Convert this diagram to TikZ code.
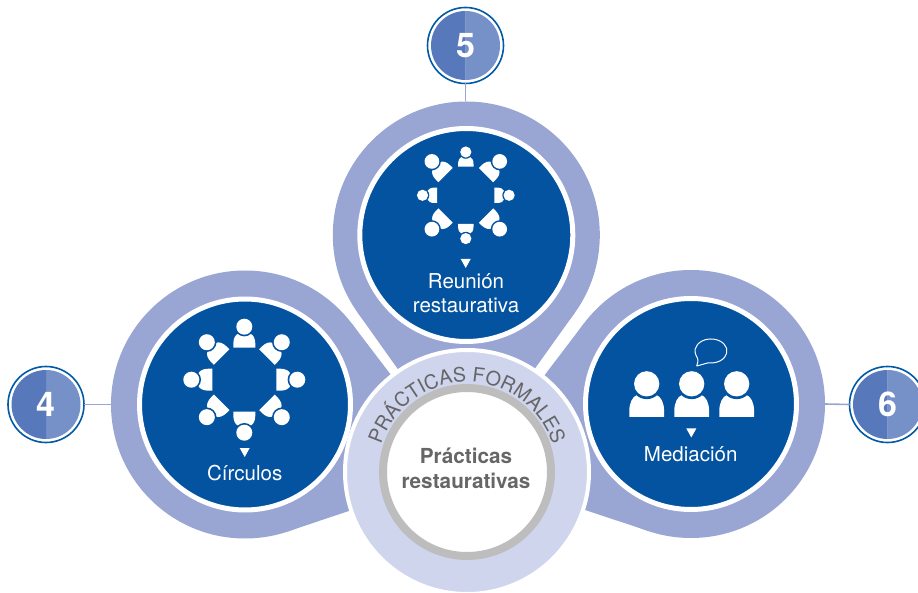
\documentclass[tikz,border=0pt]{standalone}
\usepackage{fontspec}
\setmainfont{TeX Gyre Heros}
\usetikzlibrary{calc,decorations.text}
\definecolor{outerc}{HTML}{99A6D3}
\definecolor{bluec}{HTML}{0353A0}
\definecolor{lightc}{HTML}{D0D5EE}
\definecolor{greyc}{HTML}{BDBDBD}
\definecolor{gtxt}{HTML}{666666}
\definecolor{bleft}{HTML}{5779BC}
\definecolor{bright}{HTML}{7690C8}
\definecolor{bring}{HTML}{005AA5}
\tikzset{
  disc/.style={circle,inner sep=0pt,outer sep=0pt,minimum size=#1},
  label20/.style={text=white,inner sep=0pt,align=center,font=\fontsize{20.5}{24.5}\selectfont},
  centertext/.style={text=gtxt,inner sep=0pt,align=center,font=\bfseries\fontsize{20.7}{25}\selectfont},
  numtext/.style={text=white,inner sep=0pt,font=\bfseries\fontsize{34}{34}\selectfont},
  link/.style={draw=outerc,line width=1.6pt},
  ringstyle/.style={disc=76pt,draw=bring,line width=1.6pt,fill=white},
}
\newcommand{\person}[5]{% cx cy angle radius scale
  \begin{scope}[shift={(#1,#2)},rotate=#3-90,shift={(0,#4)},scale=#5]
    \fill[white] (-11,0) -- (-11,4) .. controls (-11,9) and (-9,13) .. (-6,14) -- (6,14)
       .. controls (9,13) and (11,9) .. (11,4) -- (11,0) -- cycle;
    \fill[bluec] (0,21) circle[radius=9.7];
    \fill[white] (0,21) circle[radius=8];
  \end{scope}}
\newcommand{\badge}[4]{% name x y number
  \node[ringstyle] (#1) at (#2,#3) {};
  \fill[bright] (#2,#3)+(0,34.5) arc[start angle=90,end angle=-90,radius=34.5] -- cycle;
  \fill[bleft] (#2,#3)+(0,34.5) arc[start angle=90,end angle=270,radius=34.5] -- cycle;
  \node[numtext] (#1n) at (#2,#3) {#4};}
\newcommand{\tri}[2]{\fill[white] (#1-5,#2+4.5) -- (#1+5,#2+4.5) -- (#1,#2-4.5) -- cycle;}
\begin{document}
\begin{tikzpicture}[x=1pt,y=1pt]
\useasboundingbox (0,0) rectangle (918,592);
\clip (0,0) rectangle (918,592);
% outer discs
\node[disc=267pt,fill=outerc] (T) at (466.3,357) {};
\node[disc=268pt,fill=outerc] (L) at (245,187.5) {};
\node[disc=268pt,fill=outerc] (R) at (691,188) {};
\coordinate (tipT) at (466,127);
\coordinate (tipL) at (465,120);
\coordinate (tipR) at (471,120);
\fill[outerc] (tipT) -- (tangent cs:node=T,point={(tipT)},solution=1) -- (tangent cs:node=T,point={(tipT)},solution=2) -- cycle;
\fill[outerc] (tipL) -- (tangent cs:node=L,point={(tipL)},solution=1) -- (tangent cs:node=L,point={(tipL)},solution=2) -- cycle;
\fill[outerc] (tipR) -- (tangent cs:node=R,point={(tipR)},solution=1) -- (tangent cs:node=R,point={(tipR)},solution=2) -- cycle;
% inner discs
\node[disc=213pt,fill=bluec,draw=white,line width=5pt] (Tb) at (T) {};
\node[disc=211pt,fill=bluec,draw=white,line width=5pt] (Lb) at (L) {};
\node[disc=211pt,fill=bluec,draw=white,line width=5pt] (Rb) at (R) {};
% centre
\node[disc=244pt,fill=lightc,draw=white,line width=4pt] (C) at (467,120) {};
\node[disc=168pt,fill=white,draw=greyc,line width=8pt] (Cw) at (C) {};
\path[decorate,decoration={text along path,text align=center,text color=gtxt,
   text={|\fontsize{19.8}{19.8}\selectfont|PRÁCTICAS FORMALES}}]
   (C)+(176:90) arc[start angle=176,end angle=4,radius=90];
\node[centertext] (ctext) at (466,124) {Prácticas\\restaurativas};
% badges and links
\badge{b5}{465.5}{546.5}{5}
\badge{b4}{46}{187.5}{4}
\badge{b6}{887.5}{187.5}{6}
\draw[link] (b5.south) -- (b5.south |- T.north);
\draw[link] (b4.east) -- (L.west);
\draw[link] (b6.west) -- (R.east);
% top icon
\foreach \a in {0,90,180,270}{\person{465.8}{396.7}{\a}{28.6}{0.7}}
\foreach \a in {45,135,225,315}{\person{465.8}{396.7}{\a}{28.6}{0.92}}
% left icon
\foreach \a in {0,45,...,315}{\person{244.3}{212.3}{\a}{32}{1}}
% right icon
\person{646.7}{175}{90}{0}{1.58}
\person{691.7}{175}{90}{0}{1.58}
\person{736.7}{175}{90}{0}{1.58}
\draw[white,line width=1pt,line join=round] (708.2,229.2) arc[start angle=260,end angle=560,x radius=16,y radius=12]
   .. controls (698.5,232) .. (696.7,226) -- cycle;
% triangles
\tri{465.7}{328.5}
\tri{244.7}{139.5}
\tri{691.3}{159}
% labels
\node[label20] (ltop) at (466,299) {Reunión\\restaurativa};
\node[label20,anchor=base] (lleft) at (244.7,112) {Círculos};
\node[label20,anchor=base] (lright) at (690.7,131) {Mediación};
\end{tikzpicture}
\end{document}
